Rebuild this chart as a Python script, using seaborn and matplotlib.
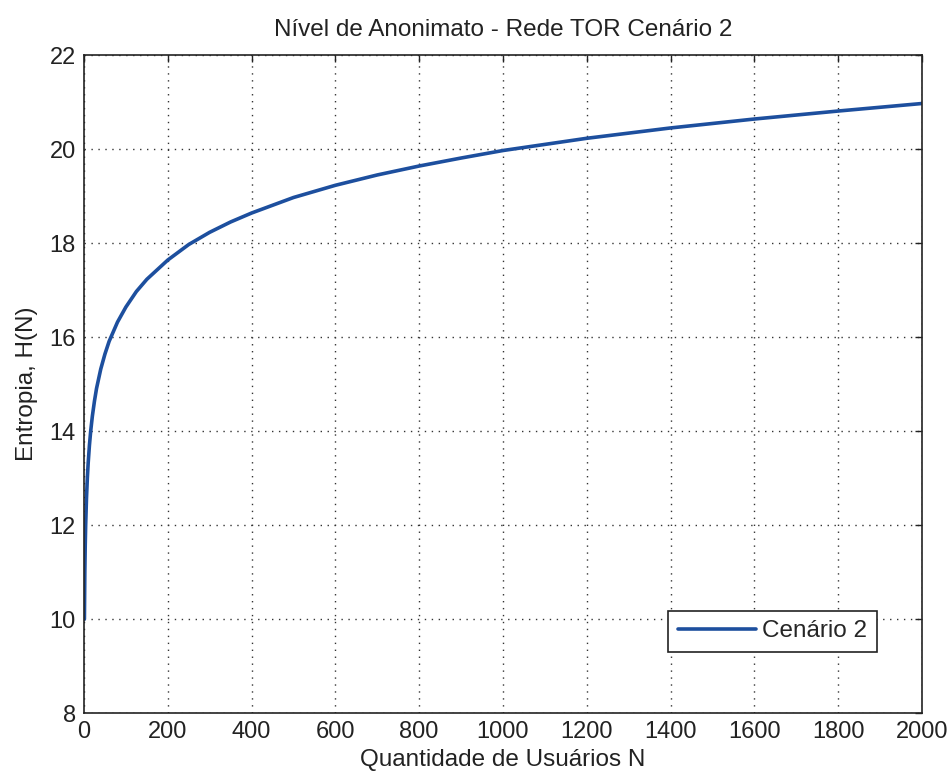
import matplotlib
matplotlib.use("Agg")
import matplotlib.pyplot as plt
import seaborn as sns
import pandas as pd

usuarios = [1, 2, 3, 4, 6, 8, 10, 13, 16, 20, 25, 30, 40, 50, 60, 80, 100, 125, 150,
            200, 250, 300, 350, 400, 500, 600, 700, 800, 900, 1000, 1200, 1400,
            1600, 1800, 2000]
entropia = [10.0, 11.0, 11.58, 12.0, 12.58, 13.0, 13.32, 13.70, 14.0, 14.32, 14.64,
            14.91, 15.32, 15.64, 15.91, 16.32, 16.64, 16.97, 17.23,
            17.64, 17.97, 18.23, 18.45, 18.64, 18.97, 19.23, 19.45, 19.64, 19.81,
            19.97, 20.23, 20.45, 20.64, 20.81, 20.97]
serie = "Cenário 2"
xticks = [0, 200, 400, 600, 800, 1000, 1200, 1400, 1600, 1800, 2000]
yticks = [8, 10, 12, 14, 16, 18, 20, 22]

df = pd.DataFrame({"N": usuarios, "H": entropia, "serie": serie})

sns.set_theme(style="white")
plt.rcParams["font.family"] = ["Liberation Sans", "DejaVu Sans"]

fig = plt.figure(figsize=(9.49, 7.76), dpi=100)
ax = fig.add_axes([0.0885, 0.081, 0.883, 0.848])

sns.lineplot(data=df, x="N", y="H", hue="serie", palette=["#1d4f9e"],
             linewidth=2.6, ax=ax)

ax.set_xlim(0, 2000)
ax.set_ylim(8, 22)
ax.set_xticks(xticks)
ax.set_yticks(yticks)
ax.tick_params(direction="in", length=5, labelsize=17, colors="#222222",
               top=True, right=True, width=1)
ax.tick_params(axis="x", pad=6)
ax.tick_params(axis="y", pad=6)
ax.grid(True, linestyle=(0, (1, 4)), color="#333333", linewidth=1)
for s in ax.spines.values():
    s.set_color("#222222")
    s.set_linewidth(1.2)

ax.set_title("Nível de Anonimato - Rede TOR Cenário 2", fontsize=17.5, color="#222222", pad=14)
ax.set_xlabel("Quantidade de Usuários N", fontsize=17.5, color="#222222", labelpad=4)
ax.set_ylabel("Entropia, H(N)", fontsize=17.5, color="#222222", labelpad=8)

leg = ax.legend(loc="lower right", bbox_to_anchor=(0.946, 0.0927), fontsize=17.5,
                frameon=True, fancybox=False, edgecolor="#222222", framealpha=1,
                handlelength=3.2, borderpad=0.4, handletextpad=0.25, borderaxespad=0)
leg.get_frame().set_linewidth(1.2)

fig.savefig("out.png", dpi=100)
